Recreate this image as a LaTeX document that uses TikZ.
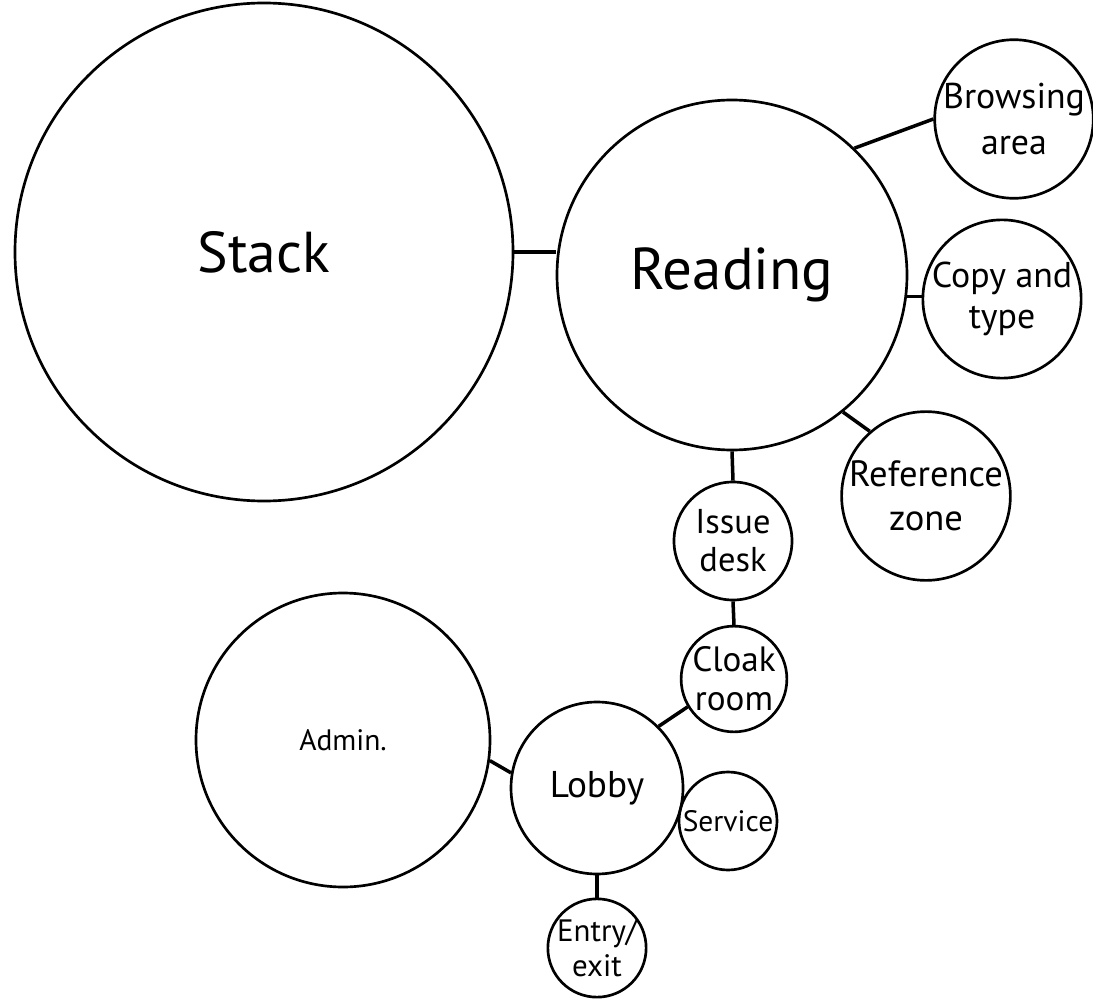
\documentclass[tikz,border=0pt]{standalone}
\usepackage{fontspec}
\setmainfont{PT Sans}
\tikzset{
    room/.style={circle, draw, line width=1.9pt, inner sep=0pt, align=center},
    link/.style={line width=2.5pt}
}
\begin{document}
\begin{tikzpicture}
        \useasboundingbox (0,0) rectangle (27.325,-25);

        % Reading wing
        \node[room, minimum size=12.45cm, font=\fontsize{41}{50}\selectfont] (stack) at (6.6,-6.3) {Stack};
        \node[room, minimum size=8.75cm, font=\fontsize{42}{50}\selectfont] (reading) at (18.3,-6.875) {Reading};
        \node[room, minimum size=3.85cm, font=\fontsize{25.5}{33}\selectfont] (browse) at (25.35,-2.975) {Browsing\\area};
        \node[room, minimum size=3.9cm, font=\fontsize{25.5}{29}\selectfont] (copy) at (25.05,-7.475) {Copy and\\type};
        \node[room, minimum size=4cm, font=\fontsize{26}{31}\selectfont] (ref) at (23.15,-12.4) {Reference\\zone};
        \node[room, minimum size=2.95cm, font=\fontsize{24.5}{27}\selectfont] (issue) at (18.325,-13.525) {Issue\\desk};
        \node[room, minimum size=2.55cm, font=\fontsize{25}{28}\selectfont] (cloak) at (18.35,-16.975) {Cloak\\room};

        % Entrance side
        \node[room, minimum size=7.35cm, font=\fontsize{21}{25}\selectfont] (admin) at (8.575,-18.5) {Admin.};
        \node[room, minimum size=4.3cm, font=\fontsize{26.5}{30}\selectfont] (lobby) at (14.925,-19.7) {Lobby};
        \node[room, minimum size=2.45cm, font=\fontsize{21}{24}\selectfont] (service) at (18.2,-20.525) {Service};
        \node[room, minimum size=2.4cm, font=\fontsize{22}{25}\selectfont] (entry) at (14.925,-23.7) {Entry/\\exit};

        % Links
        \draw[link] (stack.east) -- (stack.east -| reading.west);
        \draw[link] (reading.46) -- (browse.180);
        \draw[link] (reading.-7) -- (reading.-7 -| copy.west);
        \draw[link] (reading.-51) -- (ref.131);
        \draw[link] (reading.south) -- (issue.north);
        \draw[link] (issue.south) -- (cloak.north);
        \draw[link] (lobby.45) -- (cloak.211);
        \draw[link] (admin.-8) -- (lobby.170);
        \draw[link] (lobby.south) -- (entry.north);
    \end{tikzpicture}
\end{document}
